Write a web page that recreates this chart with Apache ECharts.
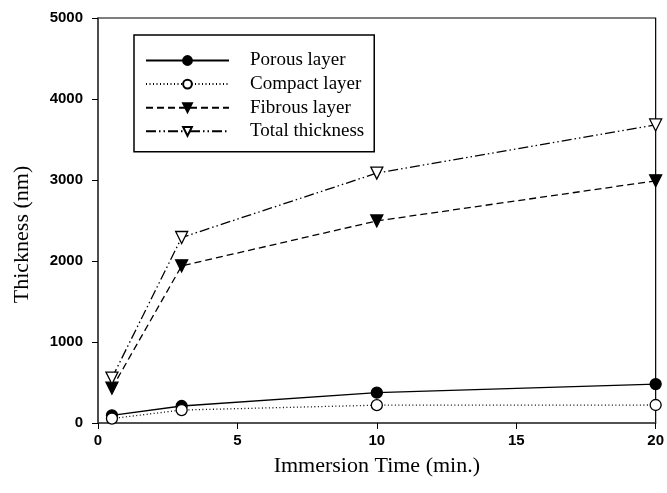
<!DOCTYPE html>
<html>
<head>
<meta charset="utf-8">
<script src="https://cdn.jsdelivr.net/npm/echarts@6/dist/echarts.min.js"></script>
<style>
  html, body { margin: 0; padding: 0; background: #fff; }
  #chart { width: 667px; height: 493px; }
</style>
</head>
<body>
<div id="chart"></div>
<script>
// immersion time (min.)
const times = [0.5, 3, 10, 20]
// thickness (nm)
const porous = [95, 210, 375, 480]
const compact = [55, 160, 220, 222]
const fibrous = [430, 1940, 2495, 2990]
const total = [555, 2290, 3085, 3680]
const yTicks = [0, 1000, 2000, 3000, 4000, 5000]
const xTicks = [0, 5, 10, 15, 20]

const serif = '"Liberation Serif", "Times New Roman", serif'
const sans = '"Liberation Sans", Arial, sans-serif'

const pairs = (ys) => times.map((t, i) => [t, ys[i]])

const chart = echarts.init(document.getElementById('chart'))

const mkSeries = (name, data, lineType, symbol, filled, rotate) => ({
  name,
  type: 'line',
  data: pairs(data),
  symbol,
  symbolSize: symbol === 'circle' ? 11 : 12,
  symbolRotate: rotate || 0,
  showAllSymbol: true,
  lineStyle: {color: '#000', width: 1.3, type: lineType},
  itemStyle: {color: filled ? '#000' : '#fff', borderColor: '#000', borderWidth: 1.3},
  emphasis: {disabled: true},
  z: 3
})

chart.setOption({
  animation: false,
  grid: {left: 98, right: 9, top: 18, bottom: 70, show: true, borderColor: '#000', borderWidth: 1.2},
  legend: {
    orient: 'vertical',
    left: 134,
    top: 35,
    padding: [16, 10, 11, 11],
    itemGap: 4.6,
    itemWidth: 83,
    itemHeight: 11,
    borderColor: '#000',
    borderWidth: 1.5,
    textStyle: {fontFamily: serif, fontSize: 19, lineHeight: 19, color: '#000', padding: [0, 0, 0, 16]},
    data: ['Porous layer', 'Compact layer', 'Fibrous layer', 'Total thickness']
  },
  xAxis: {
    type: 'value',
    min: 0,
    max: 20,
    interval: 5,
    name: 'Immersion Time (min.)',
    nameLocation: 'middle',
    nameGap: 32,
    nameTextStyle: {fontFamily: serif, fontSize: 22, color: '#000'},
    axisLine: {lineStyle: {color: '#444', width: 1.5}},
    axisTick: {show: true, length: 6, lineStyle: {color: '#000'}},
    axisLabel: {
      fontFamily: sans, fontSize: 15, fontWeight: 'bold', color: '#000', margin: 10,
      formatter: (v) => xTicks.includes(v) ? String(v) : ''
    },
    splitLine: {show: false}
  },
  yAxis: {
    type: 'value',
    min: 0,
    max: 5000,
    interval: 1000,
    name: 'Thickness (nm)',
    nameLocation: 'middle',
    nameGap: 65,
    nameTextStyle: {fontFamily: serif, fontSize: 22, color: '#000', padding: [0, 28, 0, 0]},
    axisLine: {lineStyle: {color: '#444', width: 1.5}},
    axisTick: {show: true, length: 6, lineStyle: {color: '#000'}},
    axisLabel: {
      fontFamily: sans, fontSize: 15, fontWeight: 'bold', color: '#000', margin: 15,
      formatter: (v) => yTicks.includes(v) ? String(v) : ''
    },
    splitLine: {show: false}
  },
  series: [
    mkSeries('Porous layer', porous, 'solid', 'circle', true),
    mkSeries('Compact layer', compact, [1, 2.5], 'circle', false),
    mkSeries('Fibrous layer', fibrous, [7, 4], 'triangle', true, 180),
    mkSeries('Total thickness', total, [10, 3, 1.5, 3, 1.5, 3], 'triangle', false, 180)
  ]
})
</script>
</body>
</html>
